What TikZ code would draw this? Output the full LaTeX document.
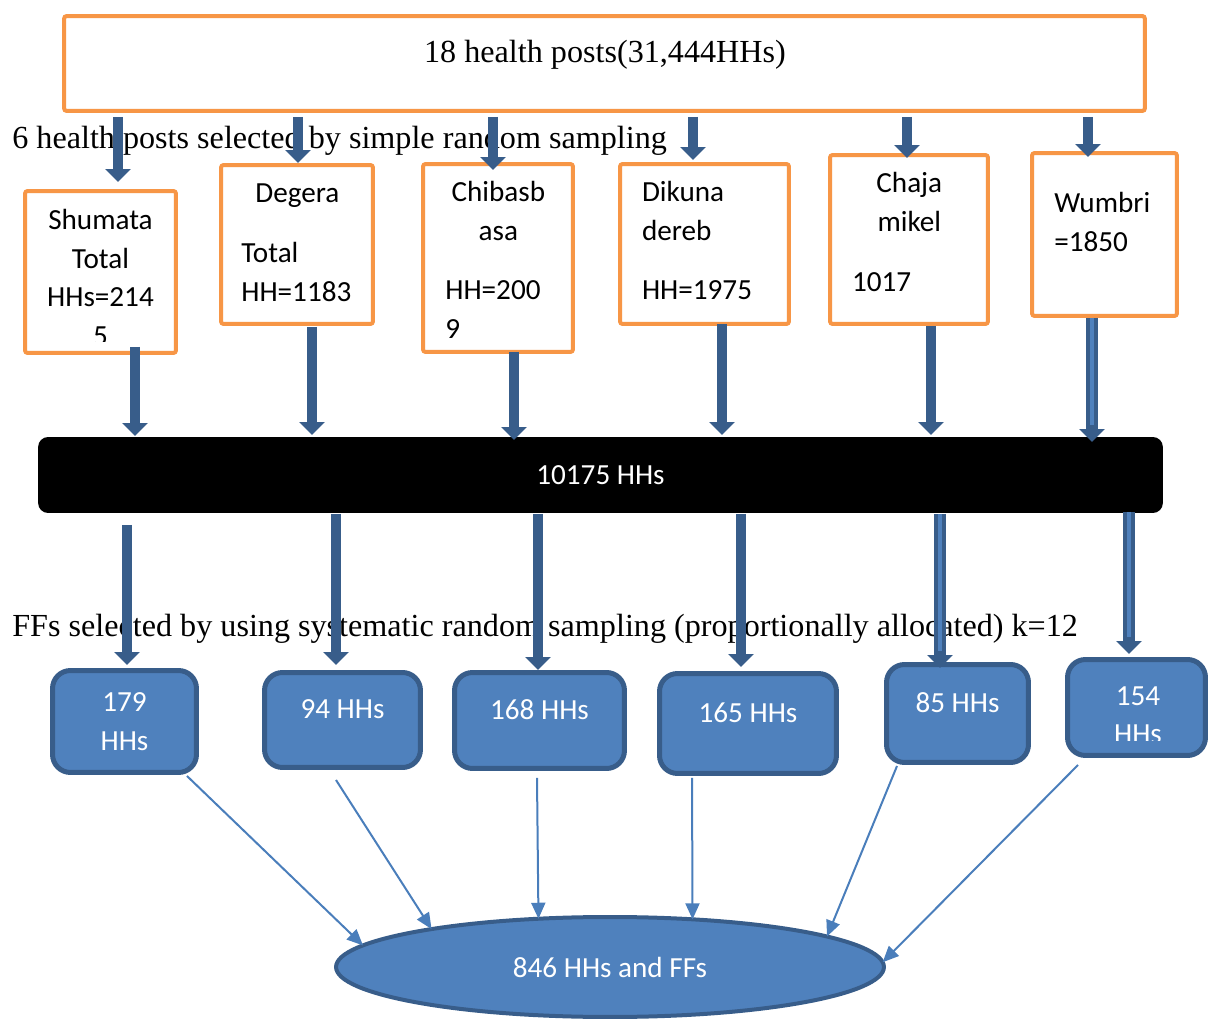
\documentclass[tikz,border=0pt]{standalone}
\usepackage{fontspec}
\setmainfont{Liberation Serif}
\newfontfamily\calibri{Carlito}
\usepackage{xcolor}
\usepackage{tikz}
\usetikzlibrary{arrows.meta, shapes.geometric, calc}

\definecolor{hporange}{HTML}{F79646}
\definecolor{arrowblue}{HTML}{385D8A}
\definecolor{ffblue}{HTML}{4F81BD}
\definecolor{thinblue}{HTML}{4A7EBB}

\newcommand{\ctr}[1]{\leavevmode\hfill#1\hfill\null}

\begin{document}
\begin{tikzpicture}[x=0.02cm, y=-0.02cm,
    note/.style={font=\fontsize{18.3}{22}\selectfont, inner sep=0},
    hpbox/.style={draw=hporange, line width=0.08cm, rounded corners=1.5pt, fill=white, inner sep=0, outer sep=0},
    hptext/.style={font=\calibri\fontsize{16.6}{21.9}\selectfont, inner sep=0, anchor=base west, align=left},
    totbar/.style={fill=black, rounded corners=0.2cm, text=white, font=\calibri\fontsize{16.6}{21.9}\selectfont, inner sep=0, outer sep=0},
    ffbox/.style={draw=arrowblue, fill=ffblue, line width=0.1cm, rounded corners=0.36cm, text=white, font=\calibri\fontsize{16.6}{21.9}\selectfont, align=center, inner sep=0, outer sep=0},
    ffone/.style={ffbox, text depth=0.42cm},
    sample/.style={ellipse, draw=arrowblue, fill=ffblue, line width=0.08cm, text=white, font=\calibri\fontsize{16.6}{21.9}\selectfont, inner sep=0, outer sep=0},
    bigarrow/.style={draw=arrowblue, line width=0.19cm, -{Triangle[width=0.5cm, length=0.26cm]}},
    hollowarrow/.style={bigarrow, line width=0.25cm, postaction={draw=ffblue, line width=0.07cm, -, shorten >=0.34cm}},
    thinarrow/.style={draw=thinblue, line width=0.04cm, -{Triangle[width=0.28cm, length=0.32cm]}}]
\useasboundingbox (0,0) rectangle (1208,1030);

% all health posts
\node[hpbox, minimum width=21.62cm, minimum height=1.9cm] (top) at (604.5,63.5) {};
\node[note, anchor=base] (toptxt) at (605,63) {18 health posts(31,444HHs)};
\node[note, anchor=base west] (lab1) at (12,149) {6 health posts selected by simple random sampling};

% selected health posts
\node[hpbox, minimum width=3.02cm, minimum height=3.24cm] (s1) at (100.5,272) {};
\node[hpbox, minimum width=3.04cm, minimum height=3.18cm] (s2) at (297,244.5) {};
\node[hpbox, minimum width=3.00cm, minimum height=3.76cm] (s3) at (498,258) {};
\node[hpbox, minimum width=3.38cm, minimum height=3.20cm] (s4) at (704.5,244) {};
\node[hpbox, minimum width=3.16cm, minimum height=3.38cm] (s5) at (909,239.5) {};
\node[hpbox, minimum width=2.90cm, minimum height=3.26cm] (s6) at (1104.5,234.5) {};

\begin{scope}
  \clip (23,189) rectangle (178,342);
  \node[hptext, anchor=base, align=center, text width=3cm] (s1t) at (100.5,230) {Shumata\\ Total\\ HHs=214\\ 5};
\end{scope}
\node[hptext, text width=2.24cm] (s2t) at (241,203) {\ctr{Degera}\\[12pt] Total\\ HH=1183};
\node[hptext, text width=2.12cm] (s3t) at (445,201.7) {\ctr{Chibasb}\\ \ctr{asa}\\[12pt] HH=200\\ 9};
\node[hptext, text width=2.8cm] (s4t) at (641.7,201.7) {Dikuna\\ dereb\\[12pt] HH=1975};
\node[hptext, text width=2.29cm] (s5t) at (851.7,193) {\ctr{Chaja}\\ \ctr{mikel}\\[12pt] 1017};
\node[hptext, text width=2.4cm] (s6t) at (1054,213) {Wumbri\\ =1850};

% pooled households
\node[totbar, minimum width=22.5cm, minimum height=1.52cm] (bar) at (600.5,475) {10175 HHs};
\node[note, anchor=base west] (lab2) at (12,637) {FFs selected by using systematic random sampling (proportionally allocated) k=12};

% allocated samples
\node[ffbox, minimum width=2.88cm, minimum height=2.04cm] (f1) at (124.5,721.5) {179\\HHs};
\node[ffone, minimum width=3.12cm, minimum height=1.90cm] (f2) at (342.5,720) {94 HHs};
\node[ffone, minimum width=3.40cm, minimum height=1.92cm] (f3) at (539.5,720.5) {168 HHs};
\node[ffone, minimum width=3.54cm, minimum height=2.00cm] (f4) at (748,723.5) {165 HHs};
\node[ffone, minimum width=2.84cm, minimum height=1.96cm] (f5) at (957.5,713.5) {85 HHs};
\node[ffbox, minimum width=2.76cm, minimum height=1.92cm] (f6) at (1136.5,707.5) {};
\begin{scope}
  \clip (1065,657) rectangle (1208,740);
  \node[hptext, text=white, anchor=base, align=center, text width=2.5cm] (f6t) at (1138,705) {154\\HHs};
\end{scope}

\node[sample, minimum width=10.96cm, minimum height=2cm] (all) at (610,967) {846 HHs and FFs};

% arrows
\draw[bigarrow] ($(top.south -| s1.north)+(17.5,6)$) -- ($(s1.north)+(17.5,-9)$);
\draw[bigarrow] ($(top.south -| s2.north)+(1,6)$) -- ($(s2.north)+(1,-2)$);
\draw[bigarrow] ($(top.south -| s3.north)+(-5,6)$) -- ($(s3.north)+(-5,6)$);
\draw[bigarrow] ($(top.south -| s4.north)+(-11.5,6)$) -- ($(s4.north)+(-11.5,-4)$);
\draw[bigarrow] ($(top.south -| s5.north)+(-2,6)$) -- ($(s5.north)+(-2,3)$);
\draw[bigarrow] ($(top.south -| s6.north)+(-16.5,6)$) -- ($(s6.north)+(-16.5,4)$);

\draw[bigarrow] ($(s1.south)+(34.5,-6)$) -- ($(bar.north -| s1.south)+(34.5,-1)$);
\draw[bigarrow] ($(s2.south)+(15,3)$) -- ($(bar.north -| s2.south)+(15,-2)$);
\draw[bigarrow] ($(s3.south)+(16,0)$) -- ($(bar.north -| s3.south)+(16,3)$);
\draw[bigarrow] ($(s4.south)+(17.5,0)$) -- ($(bar.north -| s4.south)+(17.5,-2)$);
\draw[bigarrow] ($(s5.south)+(22,2)$) -- ($(bar.north -| s5.south)+(22,-2)$);
\draw[hollowarrow] ($(s6.south)+(-12.5,2)$) -- ($(bar.north -| s6.south)+(-12.5,5)$);

\draw[bigarrow] ($(bar.south -| f1.north)+(2.5,12)$) -- ($(f1.north)+(2.5,-5.5)$);
\draw[bigarrow] ($(bar.south -| f2.north)+(-6.5,1)$) -- ($(f2.north)+(-6.5,-7.5)$);
\draw[bigarrow] ($(bar.south -| f3.north)+(-1.5,1)$) -- ($(f3.north)+(-1.5,-2.5)$);
\draw[bigarrow] ($(bar.south -| f4.north)+(-7,1)$) -- ($(f4.north)+(-7,-6.5)$);
\draw[hollowarrow] ($(bar.south -| f5.north)+(-17.5,1)$) -- ($(f5.north)+(-17.5,3.5)$);
\draw[hollowarrow] ($(bar.south -| f6.north)+(-7.5,-1)$) -- ($(f6.north)+(-7.5,-5.5)$);

\draw[thinarrow] ($(f1.south east)+(-9.5,3.5)$) -- (all.175.9);
\draw[thinarrow] ($(f2.south)+(-6.5,12.5)$) -- (all.168);
\draw[thinarrow] ($(f3.south)+(-2.5,9.5)$) -- (all.146.6);
\draw[thinarrow] ($(f4.south)+(-56,4.5)$) -- (all.30.2);
\draw[thinarrow] ($(f5.south west)+(10.5,3.5)$) -- (all.8.9);
\draw[thinarrow] ($(f6.south west)+(10.5,9.5)$) -- (all.1.8);
\end{tikzpicture}
\end{document}
